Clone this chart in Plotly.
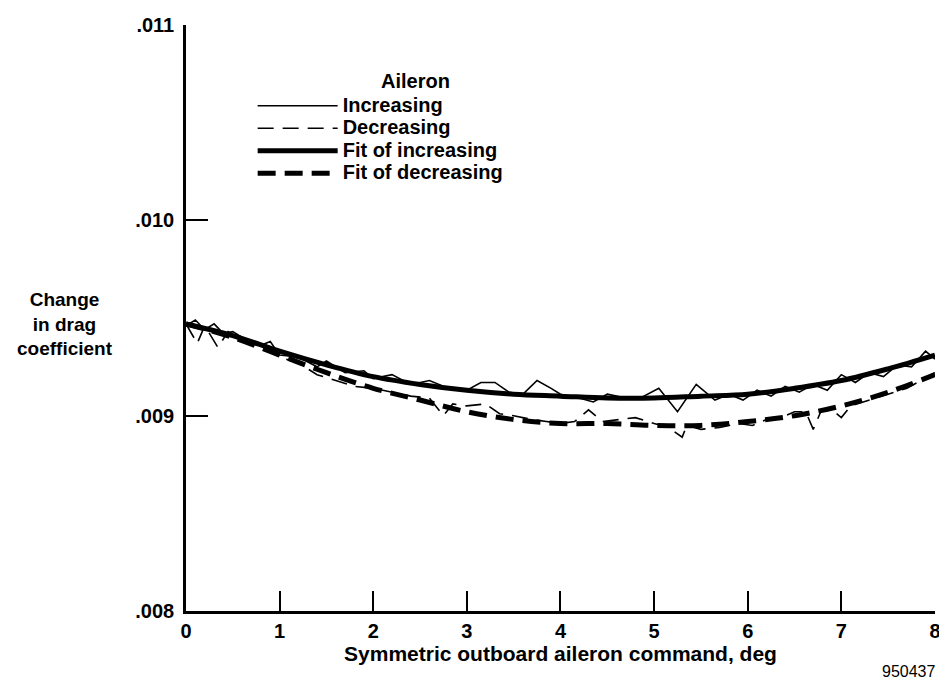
import plotly.graph_objects as go

# ---- data ----
inc_x = [0.0, 0.1, 0.2, 0.3, 0.4, 0.5, 0.6, 0.8, 0.9, 1.0, 1.2, 1.4, 1.5, 1.7, 1.9, 2.0, 2.2, 2.4, 2.6, 2.8,
         3.0, 3.15, 3.3, 3.45, 3.6, 3.75, 3.9, 4.0, 4.2, 4.35, 4.5, 4.7, 4.85, 5.05, 5.25, 5.45, 5.65, 5.8,
         5.95, 6.1, 6.25, 6.4, 6.55, 6.7, 6.85, 7.0, 7.15, 7.3, 7.45, 7.6, 7.75, 7.9, 8.0]
inc_y = [0.00946, 0.00949, 0.00944, 0.00947, 0.00942, 0.00943, 0.00940, 0.00936, 0.00938, 0.00931,
         0.00930, 0.00925, 0.00928, 0.00922, 0.00923, 0.00919, 0.00921, 0.00916, 0.00918, 0.00914,
         0.00913, 0.00917, 0.00917, 0.00912, 0.00911, 0.00918, 0.00914, 0.00911, 0.00909, 0.00907,
         0.00911, 0.00909, 0.00909, 0.00914, 0.00902, 0.00916, 0.00908, 0.00911, 0.00908, 0.00913,
         0.00910, 0.00915, 0.00912, 0.00916, 0.00913, 0.00921, 0.00917, 0.00922, 0.00920, 0.00926,
         0.00925, 0.00933, 0.00929]

dec_x = [0.0, 0.12, 0.2, 0.34, 0.45, 0.6, 0.8, 1.0, 1.2, 1.4, 1.6, 1.8, 2.0, 2.2, 2.4, 2.6, 2.75, 2.85,
         3.0, 3.2, 3.35, 3.5, 3.7, 3.85, 4.0, 4.15, 4.3, 4.45, 4.6, 4.8, 5.0, 5.15, 5.3, 5.35, 5.5, 5.7,
         5.9, 6.05, 6.2, 6.35, 6.5, 6.62, 6.7, 6.78, 6.9, 7.0, 7.1, 7.3, 7.5, 7.7, 7.85, 8.0]
dec_y = [0.00947, 0.00937, 0.00946, 0.00935, 0.00943, 0.00939, 0.00935, 0.00930, 0.00927, 0.00921,
         0.00918, 0.00915, 0.00914, 0.00912, 0.00910, 0.00909, 0.00900, 0.00906, 0.00905, 0.00906,
         0.00901, 0.00900, 0.00898, 0.00897, 0.00896, 0.00897, 0.00903, 0.00897, 0.00898, 0.00899,
         0.00896, 0.00894, 0.00889, 0.00895, 0.00893, 0.00894, 0.00896, 0.00895, 0.00898, 0.00899,
         0.00902, 0.00902, 0.00893, 0.00902, 0.00903, 0.00899, 0.00905, 0.00908, 0.00911, 0.00914,
         0.00918, 0.00922]

fit_x = [0.0, 0.5, 1.0, 1.5, 2.0, 2.5, 3.0, 3.5, 4.0, 4.5, 5.0, 5.5, 6.0, 6.5, 7.0, 7.5, 8.0]
fit_inc_y = [0.00947, 0.00941, 0.00933, 0.00926, 0.00920, 0.00916, 0.00913, 0.00911, 0.00910,
             0.00909, 0.00909, 0.00910, 0.00911, 0.00914, 0.00918, 0.00924, 0.00931]
fit_dec_y = [0.00947, 0.00940, 0.00931, 0.00922, 0.00914, 0.00908, 0.00902, 0.00898, 0.00896,
             0.00896, 0.00895, 0.00895, 0.00897, 0.00900, 0.00905, 0.00912, 0.00921]

y_tickvals = [0.008, 0.009, 0.010, 0.011]
y_ticktext = [".008", ".009", ".010", ".011"]
x_tickvals = [0, 1, 2, 3, 4, 5, 6, 7, 8]
series_names = ["Increasing", "Decreasing", "Fit of increasing", "Fit of decreasing"]

FONT = "Liberation Sans"


def big(t, size=20):
    return f'<span style="font-size:{size}px"><b>{t}</b></span>'


fig = go.Figure()
fig.add_trace(go.Scatter(x=inc_x, y=inc_y, mode="lines", name=big(series_names[0]),
                         line=dict(color="black", width=1.6)))
fig.add_trace(go.Scatter(x=dec_x, y=dec_y, mode="lines", name=big(series_names[1]),
                         line=dict(color="black", width=1.6, dash="16px,9px")))
fig.add_trace(go.Scatter(x=fit_x, y=fit_inc_y, mode="lines", name=big(series_names[2]),
                         line=dict(color="black", width=5, shape="spline")))
fig.add_trace(go.Scatter(x=fit_x, y=fit_dec_y, mode="lines", name=big(series_names[3]),
                         line=dict(color="black", width=5, dash="18px,9px", shape="spline")))

# page body has an 8px default margin, so the figure is sized to fit inside 947x690
fig.update_layout(
    width=939, height=682,
    margin=dict(l=178, r=6, t=14, b=79),
    paper_bgcolor="white", plot_bgcolor="white",
    font=dict(family=FONT, size=15, color="black"),
    showlegend=True,
    legend=dict(
        x=0.089, y=0.89, xanchor="left", yanchor="top",
        bgcolor="rgba(0,0,0,0)", borderwidth=0,
        itemwidth=80, tracegroupgap=0,
        font=dict(family=FONT, size=15, color="black"),
    ),
    xaxis=dict(
        range=[0, 8.0005], tickvals=x_tickvals, ticktext=[f"<b>{v}</b>" for v in x_tickvals],
        ticks="inside", ticklen=20, tickwidth=1.5, tickcolor="black",
        showline=True, linecolor="black", linewidth=3, mirror=False,
        showgrid=False, zeroline=False,
        tickfont=dict(family=FONT, size=20, color="black"),
        title=dict(text="<b>Symmetric outboard aileron command, deg</b>",
                   font=dict(family=FONT, size=21, color="black"), standoff=2),
    ),
    yaxis=dict(
        range=[0.008, 0.011], tickvals=y_tickvals, ticktext=[f"<b>{t}</b>" for t in y_ticktext],
        ticks="inside", ticklen=22, tickwidth=1.5, tickcolor="black",
        showline=True, linecolor="black", linewidth=2.5, mirror=False,
        showgrid=False, zeroline=False, ticklabelstandoff=5,
        tickfont=dict(family=FONT, size=20, color="black"),
    ),
    annotations=[
        dict(text="<b>Aileron</b>", xref="paper", yref="paper",
             x=0.307, y=0.905, xanchor="center", yanchor="middle", showarrow=False,
             font=dict(family=FONT, size=20, color="black")),
        dict(text="<b>Change<br>in drag<br>coefficient</b>", xref="paper", yref="paper",
             x=-0.162, y=0.49, xanchor="center", yanchor="middle", showarrow=False,
             align="center", font=dict(family=FONT, size=19, color="black")),
        dict(text="950437", xref="paper", yref="paper", x=1.0026, y=-0.1036,
             xanchor="right", yanchor="middle", showarrow=False,
             font=dict(family=FONT, size=16, color="black")),
    ],
)

fig.write_html("out.html")
